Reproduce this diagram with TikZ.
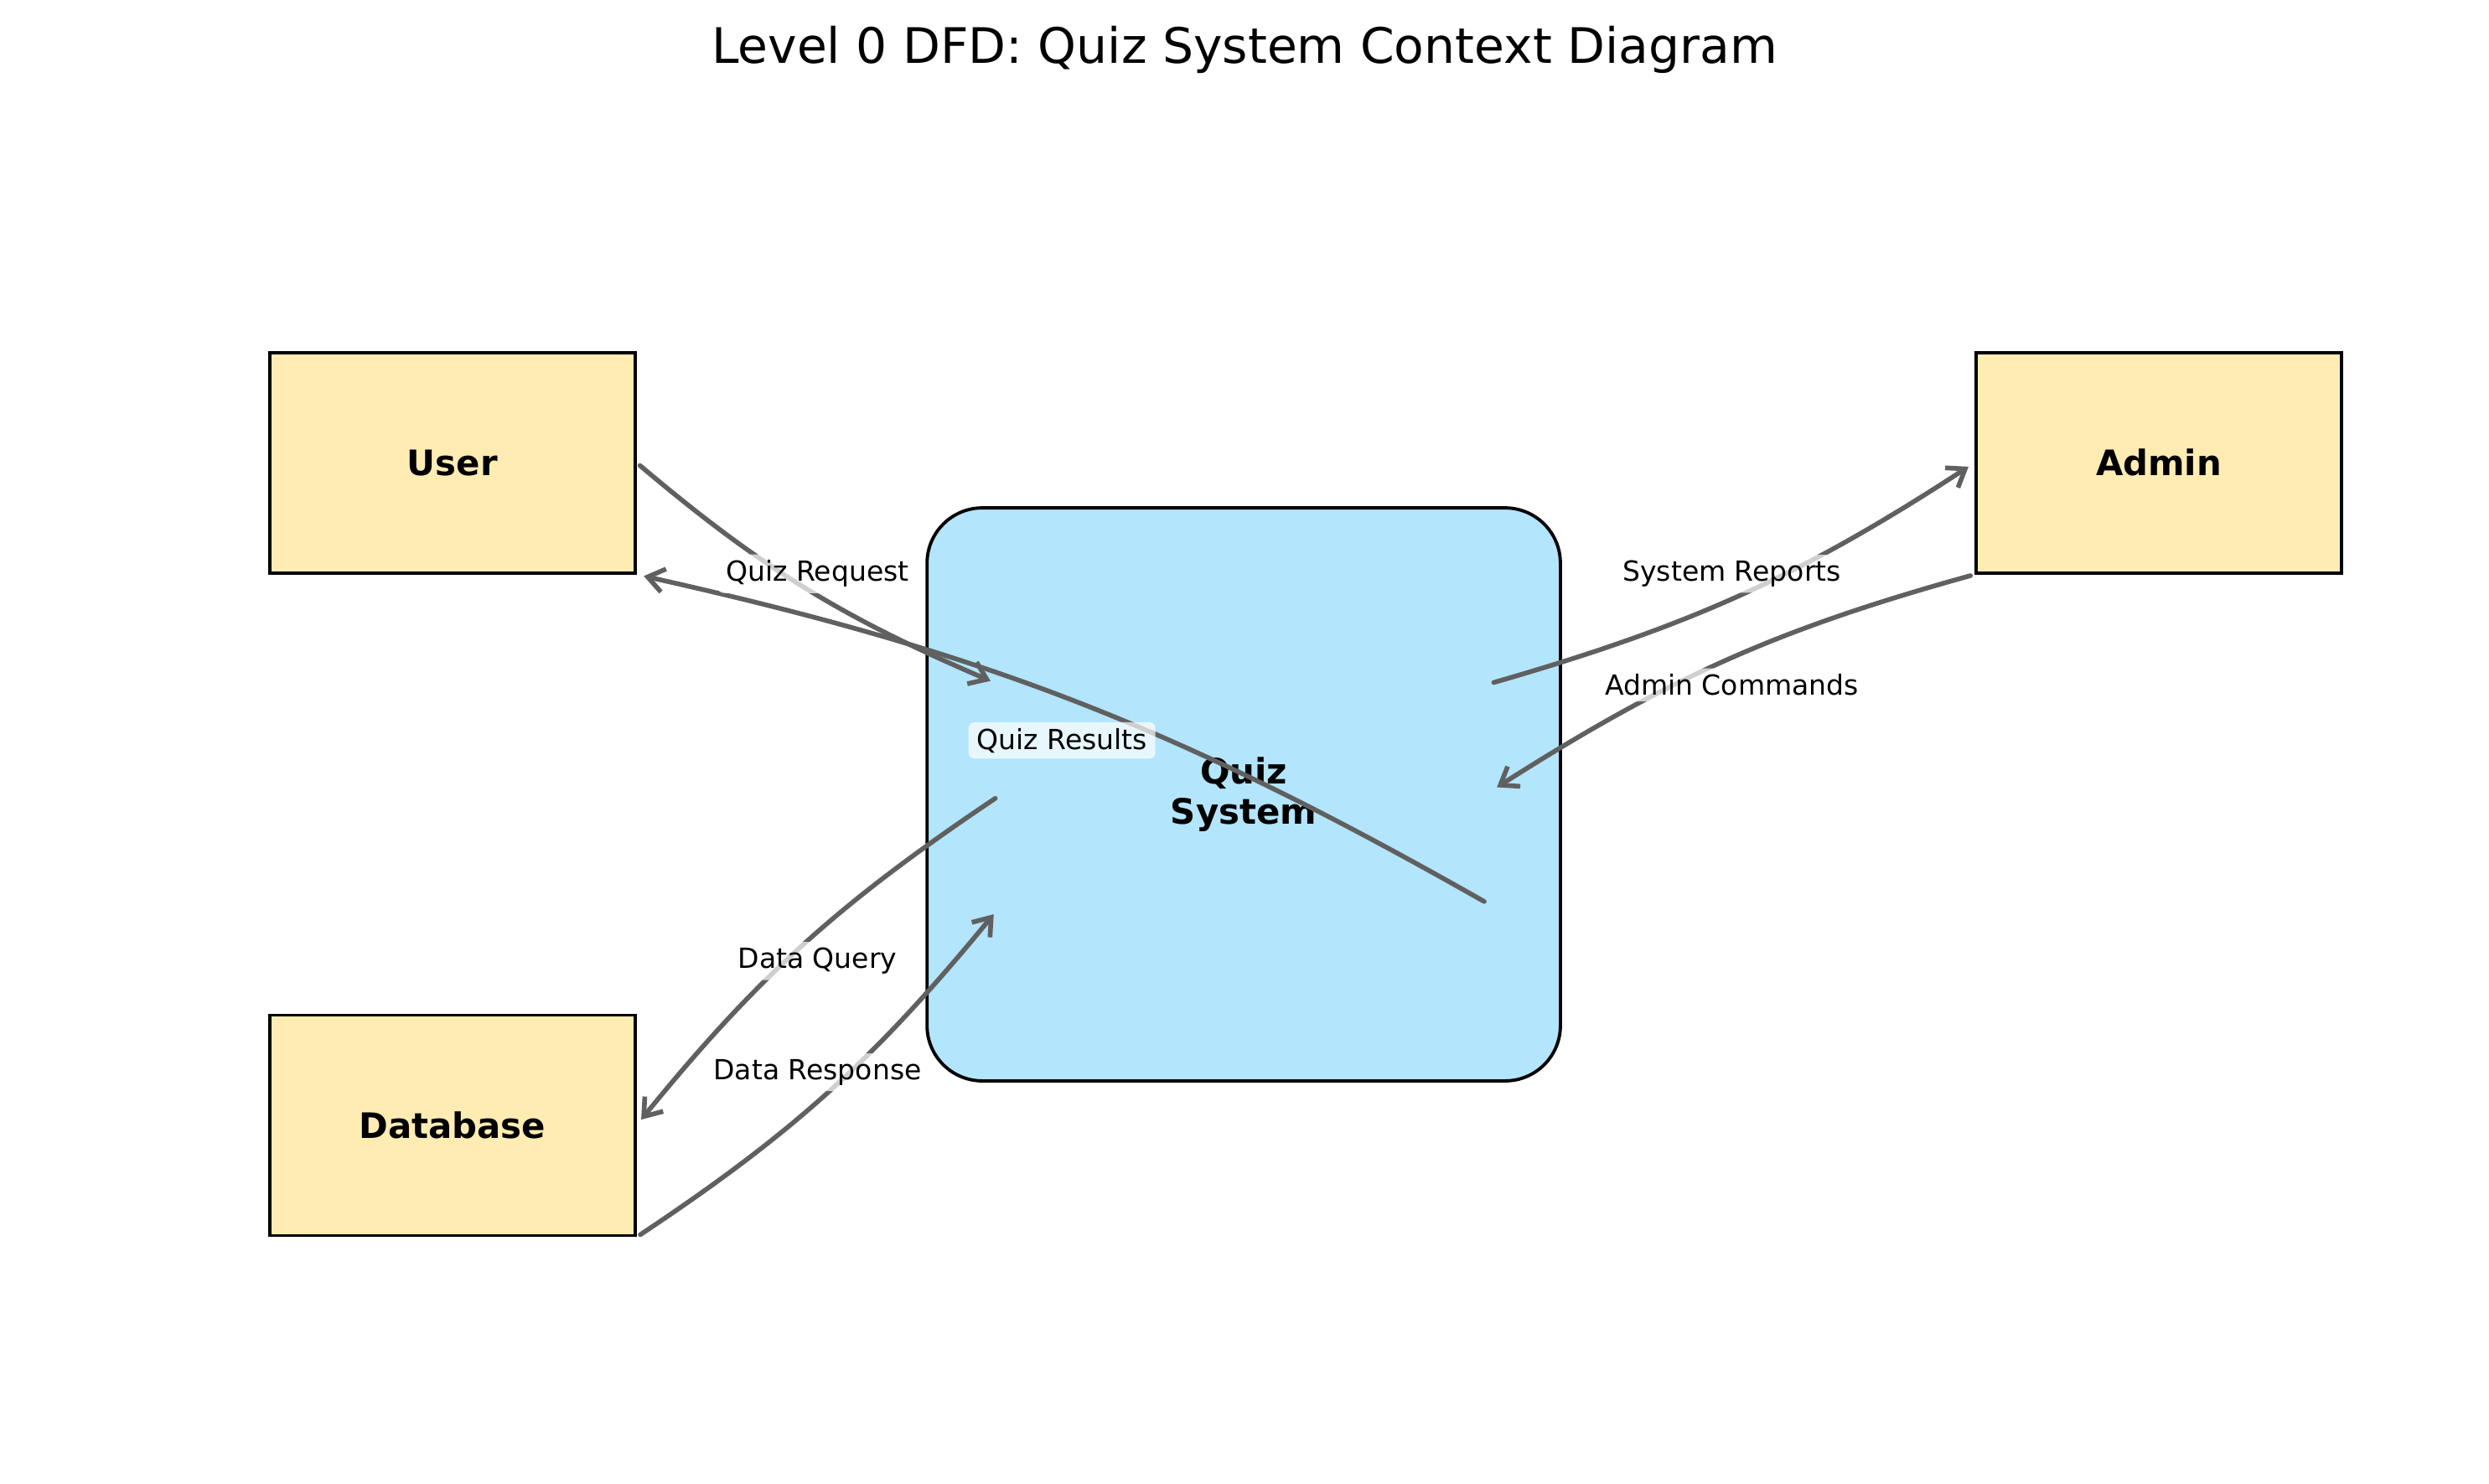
\documentclass[tikz,border=0pt]{standalone}
\usepackage{fontspec}
\setmainfont{DejaVu Sans}
\usetikzlibrary{arrows.meta}
\definecolor{extfill}{HTML}{FFECB3}
\definecolor{procfill}{HTML}{B3E5FC}
\definecolor{flowgray}{HTML}{606060}
\begin{document}
\begin{tikzpicture}[x=0.18941mm, y=-0.18941mm,
  ext/.style={draw=black, line width=1.1pt, fill=extfill, minimum width=43.56mm, minimum height=26.3mm, inner sep=0pt, font=\fontsize{11.9}{14}\selectfont\bfseries},
  proc/.style={draw=black, line width=1.1pt, fill=procfill, rounded corners=6.6mm, minimum width=75.57mm, minimum height=68.38mm, inner sep=0pt, align=center, font=\fontsize{11.9}{13.6}\selectfont\bfseries},
  flow/.style={draw=flowgray, line width=1.6pt, line cap=round, -{Straight Barb[length=5.5pt,width=8pt]}},
  fromBox/.style={shorten <=1.5pt},
  toBox/.style={shorten >=2.5pt},
  lbl/.style={fill=white, fill opacity=0.7, text opacity=1, rounded corners=2pt, inner xsep=2.8pt, inner ysep=2pt, font=\fontsize{9.4}{11}\selectfont}
]
\useasboundingbox (0,0) rectangle (1568,934.5);
\node[font=\fontsize{16.6}{19}\selectfont] (title) at (784,31.5) {Level 0 DFD: Quiz System Context Diagram};
\node[ext] (user) at (285,291.5) {User};
\node[ext] (admin) at (1360,291.5) {Admin};
\node[ext] (db) at (285,709) {Database};
\node[proc] (quiz) at (783.5,500.5) {Quiz\\System};
% endpoints inside the process
\coordinate (qreqE) at (624,429);
\coordinate (qresS) at (935,568);
\coordinate (sysS) at (941,430);
\coordinate (admE) at (943,496);
\coordinate (dqS) at (627,503);
\coordinate (drE) at (626,576);
% flows
\draw[flow, fromBox] (user.east) to[bend right=8.5] (qreqE);
\draw[flow, toBox] (qresS) to[bend right=8.5] (user.south east);
\draw[flow, toBox] (sysS) to[bend right=8.5] (admin.west);
\draw[flow, fromBox] (admin.south west) to[bend right=8.5] (admE);
\draw[flow, toBox] (dqS) to[bend right=8.5] (db.east);
\draw[flow, fromBox] (db.south east) to[bend right=8.5] (drE);
% labels
\node[lbl] (lqreq) at (515,361.5) {Quiz Request};
\node[lbl] (lqres) at (669,466.5) {Quiz Results};
\node[lbl] (lsys) at (1091,361.5) {System Reports};
\node[lbl] (ladm) at (1091,431.5) {Admin Commands};
\node[lbl] (ldq) at (515,605.5) {Data Query};
\node[lbl] (ldr) at (515,675.5) {Data Response};
\end{tikzpicture}
\end{document}
